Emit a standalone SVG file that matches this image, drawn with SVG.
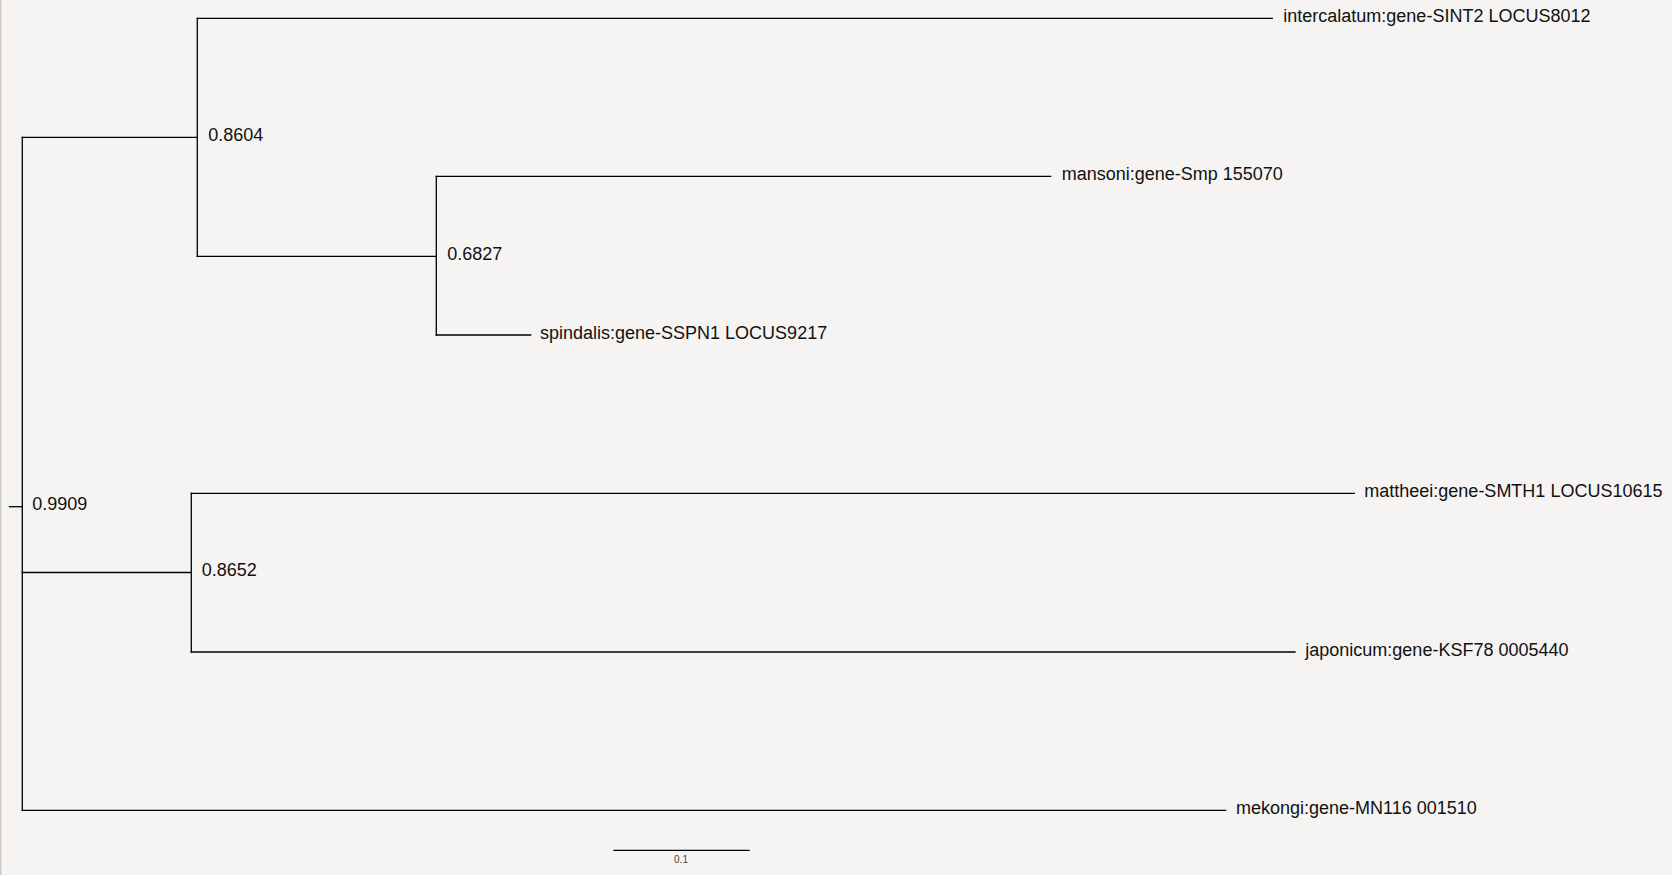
<svg xmlns="http://www.w3.org/2000/svg" width="1672" height="875" viewBox="0 0 1672 875">
<style>
.br{fill:none;stroke:#000;stroke-width:1.3;stroke-linecap:square}
.lab{font-family:"Liberation Sans",Arial,sans-serif;font-size:18px;fill:#111}
.sup{font-family:"Liberation Sans",Arial,sans-serif;font-size:18px;fill:#111}
.sc{font-family:"Liberation Sans",Arial,sans-serif;font-size:10px;fill:#444;text-anchor:middle}
</style>
<rect x="0" y="0" width="1672" height="875" fill="#f5f4f2"/>
<rect x="0" y="0" width="1.5" height="875" fill="#cdc9c1"/>
<g id="connectors">
<path class="br" d="M9.5,506.7H22.3"/>
<path class="br" d="M22.3,137.3V810.3"/>
<path class="br" d="M22.3,137.3H197.3"/>
<path class="br" d="M22.3,572.5H191.3"/>
<path class="br" d="M22.3,810.3H1225.7"/>
<path class="br" d="M197.3,18.3V256.3"/>
<path class="br" d="M197.3,18.3H1272.3"/>
<path class="br" d="M197.3,256.3H436.3"/>
<path class="br" d="M436.3,176.3V335"/>
<path class="br" d="M436.3,176.3H1050.7"/>
<path class="br" d="M436.3,335H530.7"/>
<path class="br" d="M191.3,493.3V652"/>
<path class="br" d="M191.3,493.3H1354.3"/>
<path class="br" d="M191.3,652H1295"/>
</g>
<g id="root"><text class="sup" x="32.3" y="509.8">0.9909</text></g>
<g id="n8604"><text class="sup" x="208.3" y="140.8">0.8604</text></g>
<g id="n6827"><text class="sup" x="447.3" y="259.8">0.6827</text></g>
<g id="n8652"><text class="sup" x="201.7" y="575.8">0.8652</text></g>
<g id="intercalatum"><text class="lab" x="1283.3" y="21.8">intercalatum:gene-SINT2 LOCUS8012</text></g>
<g id="mansoni"><text class="lab" x="1061.7" y="179.8">mansoni:gene-Smp 155070</text></g>
<g id="spindalis"><text class="lab" x="540" y="338.6">spindalis:gene-SSPN1 LOCUS9217</text></g>
<g id="mattheei"><text class="lab" x="1364.3" y="497">mattheei:gene-SMTH1 LOCUS10615</text></g>
<g id="japonicum"><text class="lab" x="1305.3" y="655.6">japonicum:gene-KSF78 0005440</text></g>
<g id="mekongi"><text class="lab" x="1236" y="813.8">mekongi:gene-MN116 001510</text></g>
<g id="scalebar">
<path class="br" d="M614,850.3H749"/>
<text class="sc" x="681" y="862.5">0.1</text>
</g>
</svg>
